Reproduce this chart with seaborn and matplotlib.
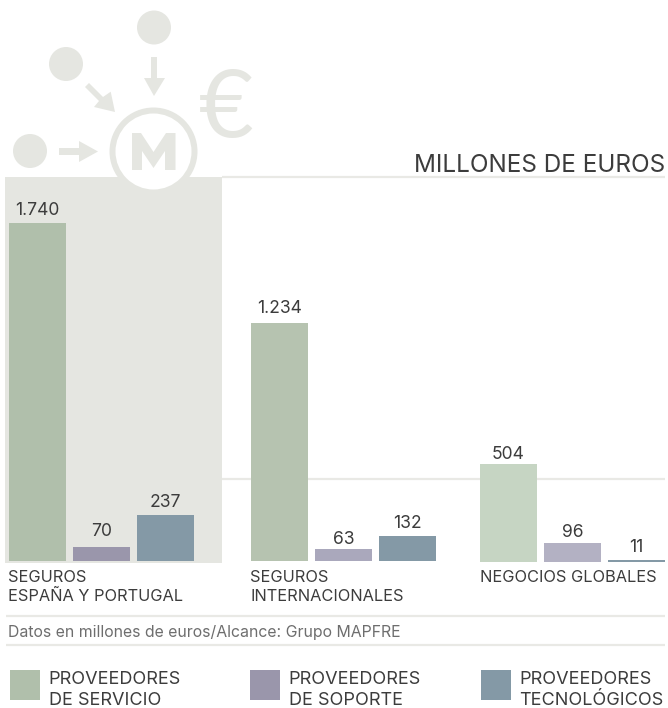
import matplotlib
matplotlib.use("Agg")
import matplotlib.pyplot as plt
from matplotlib.patches import Circle, Polygon, Rectangle
import pandas as pd
import seaborn as sns

groups = ["SEGUROS\nESPAÑA Y PORTUGAL", "SEGUROS\nINTERNACIONALES", "NEGOCIOS GLOBALES"]
series = ["PROVEEDORES\nDE SERVICIO", "PROVEEDORES\nDE SOPORTE", "PROVEEDORES\nTECNOLÓGICOS"]
seguros_espana = [1740, 70, 237]
seguros_internacionales = [1234, 63, 132]
negocios_globales = [504, 96, 11]
value_labels = [["1.740", "70", "237"], ["1.234", "63", "132"], ["504", "96", "11"]]
palettes = [["#B0BFAB", "#9A96AB", "#8499A6"],
            ["#B6C3B0", "#AAA8BC", "#8499A6"],
            ["#C6D5C3", "#B3B1C3", "#8499A6"]]
legend_colors = ["#B0BFAB", "#9A96AB", "#8499A6"]

W, H = 668, 708
FONT = ["Inter", "DejaVu Sans"]
sns.set_theme(style="white")
plt.rcParams["font.family"] = FONT
GREY = "#E5E6E1"
LINE = "#E9E9E5"
TXT = "#3C3C3C"

fig = plt.figure(figsize=(W / 100, H / 100), dpi=100, facecolor="white")
bg = fig.add_axes([0, 0, 1, 1], zorder=0)
bg.set_xlim(0, W)
bg.set_ylim(H, 0)
bg.axis("off")

# panel and rules
bg.add_patch(Rectangle((5, 177), 217, 386, fc=GREY, ec="none"))
bg.hlines([177, 479], 222, 665, color=LINE, lw=1.6)
bg.hlines([615.5, 645], 6, 665, color=LINE, lw=1.6)

# icon
for cx, cy, r, col in [(30, 151, 17, GREY), (66, 64, 17, GREY), (154, 27.5, 17, GREY),
                       (153.5, 151.5, 44, GREY), (153.5, 151.5, 38, "white")]:
    bg.add_patch(Circle((cx, cy), r, fc=col, ec="none"))
icon_shapes = [
    [(59, 148), (79, 148), (79, 141), (98, 151.5), (79, 162), (79, 155), (59, 155)],
    [(151, 57), (157, 57), (157, 78), (165, 78), (154, 96), (144, 78), (151, 78)],
    [(85, 87), (89, 83), (103, 97), (110.7, 91.7), (115, 112), (94, 107), (99, 101)],
    [(132, 133), (141, 133), (153.5, 152), (166, 133), (175.5, 133), (175.5, 170), (165, 170),
     (165, 151), (153.5, 168), (142, 151), (142, 170), (132, 170)],
]
for pts in icon_shapes:
    bg.add_patch(Polygon(pts, closed=True, fc=GREY, ec="none"))
bg.text(226, 111, "€", fontsize=68, color=GREY, ha="center", va="center", family=["Lato", "DejaVu Sans"])

# bars: (left pixel, baseline pixel, pixels per value unit, label paddings)
layouts = [(5.5, 561, 0.1942, [3.2, 5.5, 3.2]),
           (247.5, 561, 0.1930, [4, 0.5, 2.5]),
           (476.5, 562, 0.1942, [0.5, 1.5, 2.5])]
PITCH = 64
values = [seguros_espana, seguros_internacionales, negocios_globales]
for vals, labs, pal, (left, base, scale, pads) in zip(values, value_labels, palettes, layouts):
    top = 177
    ax = fig.add_axes([left / W, 1 - base / H, 3 * PITCH / W, (base - top) / H], zorder=2)
    df = pd.DataFrame({"serie": series, "valor": vals})
    sns.barplot(data=df, x="serie", y="valor", hue="serie", palette=pal, legend=False,
                width=57 / PITCH, saturation=1, ax=ax, linewidth=0)
    ax.set_xlim(-0.5, 2.5)
    ax.set_ylim(0, (base - top) / scale)
    ax.axis("off")
    for cont, lab, pad in zip(ax.containers, labs, pads):
        ax.bar_label(cont, labels=[lab], padding=pad, fontsize=12.6, color=TXT)

# category labels
for x, g in zip([8, 250, 480], groups):
    bg.text(x, 587 if "\n" in g else 577, g, fontsize=11.8, color=TXT, ha="left", va="center", linespacing=1.32)

bg.text(665, 165, "MILLONES DE EUROS", fontsize=17.5, color=TXT, ha="right", va="center")
bg.text(8, 633, "Datos en millones de euros/Alcance: Grupo MAPFRE", fontsize=11.4, color="#6E6E6E",
        ha="left", va="center")

# legend
for x, s, c in zip([10, 250, 481], series, legend_colors):
    bg.add_patch(Rectangle((x, 670), 30, 30, fc=c, ec="none"))
    bg.text(x + 38.6, 690, s, fontsize=13, color=TXT, ha="left", va="center", linespacing=1.32)

fig.savefig("out.png", dpi=100)
